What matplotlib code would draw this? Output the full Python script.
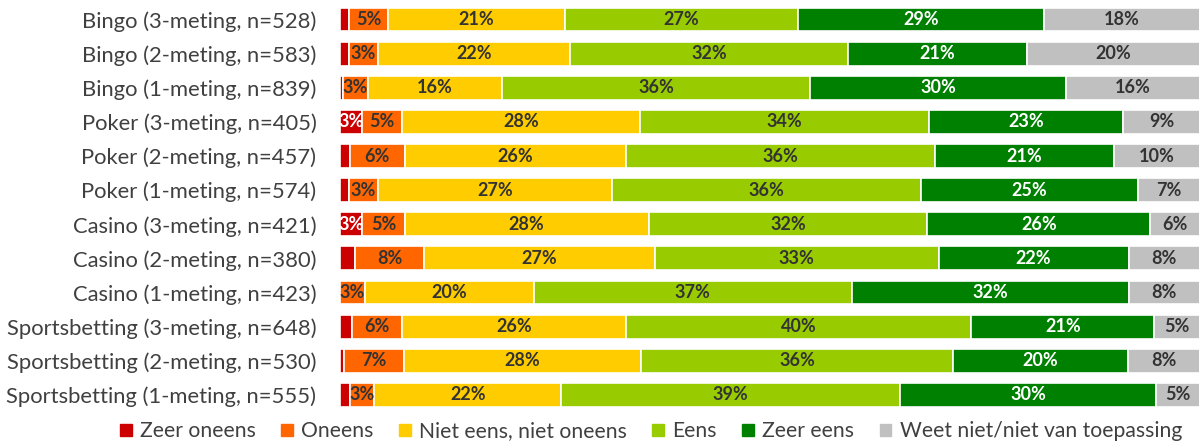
import matplotlib
matplotlib.use('Agg')
import matplotlib.pyplot as plt
import matplotlib.patches as mpatches
import numpy as np

# Data (percentages)
rows = [
    'Bingo (3-meting, n=528)',
    'Bingo (2-meting, n=583)',
    'Bingo (1-meting, n=839)',
    'Poker (3-meting, n=405)',
    'Poker (2-meting, n=457)',
    'Poker (1-meting, n=574)',
    'Casino (3-meting, n=421)',
    'Casino (2-meting, n=380)',
    'Casino (1-meting, n=423)',
    'Sportsbetting (3-meting, n=648)',
    'Sportsbetting (2-meting, n=530)',
    'Sportsbetting (1-meting, n=555)',
]
categories = ['Zeer oneens', 'Oneens', 'Niet eens, niet oneens', 'Eens',
              'Zeer eens', 'Weet niet/niet van toepassing']

zeer_oneens = [1.0, 1.0, 0.3, 2.6, 1.2, 1.0, 2.6, 1.7, 0.0, 1.4, 0.5, 1.2]
oneens      = [4.6, 3.4, 2.9, 4.6, 6.3, 3.4, 4.9, 8.1, 2.9, 5.8, 6.9, 2.8]
neutraal    = [20.6, 22.4, 15.6, 27.7, 25.7, 27.2, 28.4, 26.8, 19.6, 26.1, 27.6, 21.7]
eens        = [27.0, 32.3, 35.9, 33.6, 36.0, 36.0, 32.4, 33.0, 37.0, 40.1, 36.3, 39.4]
zeer_eens   = [28.7, 20.8, 29.7, 22.6, 20.8, 25.2, 25.9, 22.1, 32.2, 21.3, 20.3, 29.8]
weet_niet   = [18.1, 20.1, 15.6, 8.9, 10.0, 7.2, 5.8, 8.3, 8.3, 5.3, 8.4, 5.1]

series = [zeer_oneens, oneens, neutraal, eens, zeer_eens, weet_niet]
colors = ['#CC0000', '#FF6600', '#FFCC00', '#99CC00', '#008000', '#C0C0C0']
text_colors = ['white', '#333333', '#333333', '#333333', 'white', '#333333']

plt.rcParams['font.family'] = ['Lato', 'DejaVu Sans']

fig = plt.figure(figsize=(11.99, 4.43), dpi=100)
ax = fig.add_axes([340 / 1199, 0.07, 860 / 1199, 0.9244])

y = np.arange(len(rows))
left = np.zeros(len(rows))
for vals, col, tcol in zip(series, colors, text_colors):
    vals = np.array(vals)
    ax.barh(y, vals, left=left, height=0.7, color=col, edgecolor='white', linewidth=1.2)
    for yi, (l, v) in enumerate(zip(left, vals)):
        if v >= 2.5:
            ax.text(l + v / 2, yi, f'{int(round(v))}%', ha='center', va='center',
                    color=tcol, fontsize=13, fontweight='bold')
    left += vals

ax.set_xlim(0, 100)
ax.set_ylim(len(rows) - 0.5, -0.5)
ax.set_yticks(y)
ax.set_yticklabels(rows, fontsize=15.8, color='#404040')
ax.tick_params(axis='y', length=0, pad=17)
ax.set_xticks([])
for s in ax.spines.values():
    s.set_visible(False)

handles = [mpatches.Patch(color=c, label=l) for c, l in zip(colors, categories)]
fig.legend(handles=handles, loc='center', bbox_to_anchor=(0.543, 0.026), ncol=6,
           frameon=False, fontsize=15.2, handlelength=0.55, handleheight=0.55,
           handletextpad=0.4, columnspacing=1.2, labelcolor='#404040')

plt.savefig('out.png', dpi=100, facecolor='white')
plt.close()
